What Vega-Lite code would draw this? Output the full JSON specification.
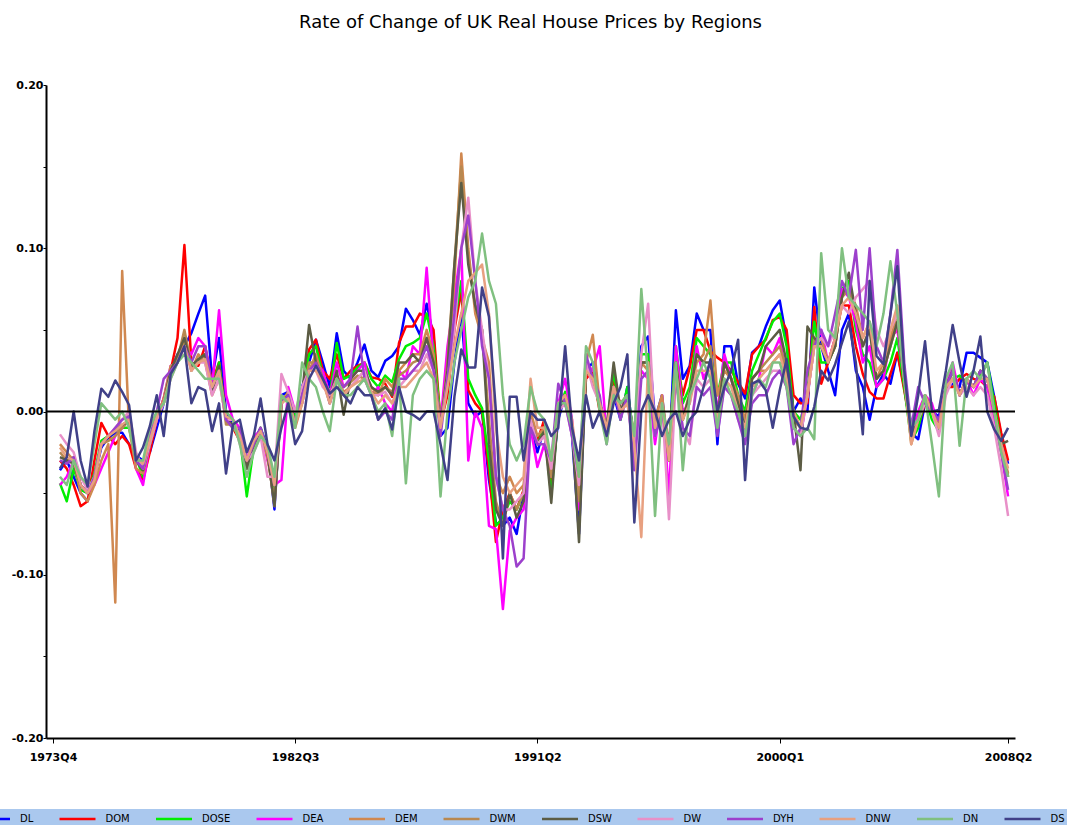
{
"$schema": "https://vega.github.io/schema/vega-lite/v6.json",
"width": 969, "height": 653,
"autosize": {"type": "none"},
"padding": {"left": 46, "top": 85, "right": 52, "bottom": 87},
"background": "white",
"title": {"text": "Rate of Change of UK Real House Prices by Regions", "font": "DejaVu Sans", "fontSize": 18, "fontWeight": "normal", "color": "black", "anchor": "middle", "frame": "group", "offset": 47},
"config": {"view": {"stroke": null}},
"layer": [
{
"data": {"values": [
{"d":"1974-01-01","DL":-0.036,"DOM":-0.030,"DOSE":-0.044,"DEA":-0.045,"DEM":-0.020,"DWM":-0.025,"DSW":-0.028,"DW":-0.014,"DYH":-0.030,"DNW":-0.022,"DN":-0.040,"DS":-0.035},
{"d":"1974-04-01","DL":-0.030,"DOM":-0.035,"DOSE":-0.055,"DEA":-0.040,"DEM":-0.025,"DWM":-0.030,"DSW":-0.030,"DW":-0.020,"DYH":-0.032,"DNW":-0.028,"DN":-0.045,"DS":-0.028},
{"d":"1974-07-01","DL":-0.040,"DOM":-0.045,"DOSE":-0.035,"DEA":-0.030,"DEM":-0.030,"DWM":-0.028,"DSW":-0.032,"DW":-0.025,"DYH":-0.028,"DNW":-0.030,"DN":-0.030,"DS":0.000},
{"d":"1974-10-01","DL":-0.050,"DOM":-0.058,"DOSE":-0.048,"DEA":-0.045,"DEM":-0.050,"DWM":-0.045,"DSW":-0.045,"DW":-0.040,"DYH":-0.045,"DNW":-0.045,"DN":-0.040,"DS":-0.030},
{"d":"1975-01-01","DL":-0.055,"DOM":-0.055,"DOSE":-0.050,"DEA":-0.050,"DEM":-0.055,"DWM":-0.050,"DSW":-0.050,"DW":-0.048,"DYH":-0.050,"DNW":-0.050,"DN":-0.045,"DS":-0.046},
{"d":"1975-04-01","DL":-0.040,"DOM":-0.030,"DOSE":-0.038,"DEA":-0.045,"DEM":-0.045,"DWM":-0.040,"DSW":-0.040,"DW":-0.040,"DYH":-0.040,"DNW":-0.042,"DN":-0.020,"DS":-0.012},
{"d":"1975-07-01","DL":-0.022,"DOM":-0.007,"DOSE":-0.018,"DEA":-0.035,"DEM":-0.030,"DWM":-0.020,"DSW":-0.020,"DW":-0.020,"DYH":-0.020,"DNW":-0.020,"DN":0.005,"DS":0.014},
{"d":"1975-10-01","DL":-0.016,"DOM":-0.015,"DOSE":-0.015,"DEA":-0.025,"DEM":-0.020,"DWM":-0.018,"DSW":-0.015,"DW":-0.015,"DYH":-0.015,"DNW":-0.015,"DN":0.000,"DS":0.009},
{"d":"1976-01-01","DL":-0.013,"DOM":-0.020,"DOSE":-0.012,"DEA":-0.015,"DEM":-0.117,"DWM":-0.015,"DSW":-0.012,"DW":-0.010,"DYH":-0.010,"DNW":-0.012,"DN":-0.005,"DS":0.019},
{"d":"1976-04-01","DL":-0.013,"DOM":-0.015,"DOSE":-0.010,"DEA":-0.010,"DEM":0.086,"DWM":-0.010,"DSW":-0.008,"DW":-0.005,"DYH":-0.005,"DNW":-0.008,"DN":0.000,"DS":0.012},
{"d":"1976-07-01","DL":-0.020,"DOM":-0.020,"DOSE":-0.010,"DEA":-0.005,"DEM":-0.010,"DWM":-0.005,"DSW":-0.006,"DW":0.000,"DYH":-0.003,"DNW":-0.005,"DN":-0.010,"DS":0.004},
{"d":"1976-10-01","DL":-0.027,"DOM":-0.035,"DOSE":-0.028,"DEA":-0.035,"DEM":-0.035,"DWM":-0.028,"DSW":-0.030,"DW":-0.025,"DYH":-0.030,"DNW":-0.028,"DN":-0.030,"DS":-0.030},
{"d":"1977-01-01","DL":-0.030,"DOM":-0.042,"DOSE":-0.040,"DEA":-0.045,"DEM":-0.038,"DWM":-0.035,"DSW":-0.036,"DW":-0.035,"DYH":-0.035,"DNW":-0.032,"DN":-0.030,"DS":-0.022},
{"d":"1977-04-01","DL":-0.025,"DOM":-0.025,"DOSE":-0.018,"DEA":-0.020,"DEM":-0.020,"DWM":-0.020,"DSW":-0.020,"DW":-0.020,"DYH":-0.015,"DNW":-0.018,"DN":-0.010,"DS":-0.009},
{"d":"1977-07-01","DL":-0.010,"DOM":-0.005,"DOSE":0.000,"DEA":-0.005,"DEM":-0.005,"DWM":-0.002,"DSW":-0.004,"DW":-0.005,"DYH":0.000,"DNW":-0.003,"DN":0.000,"DS":0.010},
{"d":"1977-10-01","DL":0.005,"DOM":0.008,"DOSE":0.005,"DEA":0.008,"DEM":0.008,"DWM":0.005,"DSW":0.006,"DW":0.005,"DYH":0.020,"DNW":0.006,"DN":0.005,"DS":-0.015},
{"d":"1978-01-01","DL":0.025,"DOM":0.025,"DOSE":0.022,"DEA":0.028,"DEM":0.028,"DWM":0.022,"DSW":0.025,"DW":0.020,"DYH":0.025,"DNW":0.022,"DN":0.020,"DS":0.023},
{"d":"1978-04-01","DL":0.035,"DOM":0.045,"DOSE":0.030,"DEA":0.030,"DEM":0.030,"DWM":0.032,"DSW":0.035,"DW":0.030,"DYH":0.030,"DNW":0.030,"DN":0.030,"DS":0.030},
{"d":"1978-07-01","DL":0.040,"DOM":0.102,"DOSE":0.045,"DEA":0.040,"DEM":0.045,"DWM":0.050,"DSW":0.045,"DW":0.040,"DYH":0.040,"DNW":0.040,"DN":0.035,"DS":0.040},
{"d":"1978-10-01","DL":0.048,"DOM":0.030,"DOSE":0.025,"DEA":0.035,"DEM":0.025,"DWM":0.028,"DSW":0.028,"DW":0.025,"DYH":0.030,"DNW":0.025,"DN":0.030,"DS":0.005},
{"d":"1979-01-01","DL":0.060,"DOM":0.028,"DOSE":0.032,"DEA":0.045,"DEM":0.035,"DWM":0.030,"DSW":0.032,"DW":0.030,"DYH":0.040,"DNW":0.030,"DN":0.025,"DS":0.015},
{"d":"1979-04-01","DL":0.071,"DOM":0.040,"DOSE":0.035,"DEA":0.040,"DEM":0.030,"DWM":0.035,"DSW":0.035,"DW":0.030,"DYH":0.040,"DNW":0.032,"DN":0.020,"DS":0.013},
{"d":"1979-07-01","DL":0.020,"DOM":0.018,"DOSE":0.012,"DEA":0.015,"DEM":0.010,"DWM":0.015,"DSW":0.012,"DW":0.010,"DYH":0.015,"DNW":0.015,"DN":0.020,"DS":-0.012},
{"d":"1979-10-01","DL":0.045,"DOM":0.030,"DOSE":0.030,"DEA":0.062,"DEM":0.020,"DWM":0.025,"DSW":0.028,"DW":0.020,"DYH":0.025,"DNW":0.025,"DN":0.020,"DS":0.005},
{"d":"1980-01-01","DL":0.000,"DOM":-0.003,"DOSE":-0.005,"DEA":0.010,"DEM":-0.005,"DWM":-0.008,"DSW":-0.005,"DW":-0.005,"DYH":-0.005,"DNW":-0.003,"DN":0.000,"DS":-0.038},
{"d":"1980-04-01","DL":-0.008,"DOM":-0.010,"DOSE":-0.010,"DEA":-0.005,"DEM":-0.010,"DWM":-0.008,"DSW":-0.008,"DW":-0.005,"DYH":-0.010,"DNW":-0.005,"DN":-0.005,"DS":-0.008},
{"d":"1980-07-01","DL":-0.012,"DOM":-0.018,"DOSE":-0.015,"DEA":-0.010,"DEM":-0.015,"DWM":-0.015,"DSW":-0.015,"DW":-0.020,"DYH":-0.010,"DNW":-0.015,"DN":-0.020,"DS":-0.005},
{"d":"1980-10-01","DL":-0.035,"DOM":-0.035,"DOSE":-0.052,"DEA":-0.030,"DEM":-0.030,"DWM":-0.035,"DSW":-0.035,"DW":-0.030,"DYH":-0.030,"DNW":-0.030,"DN":-0.040,"DS":-0.025},
{"d":"1981-01-01","DL":-0.018,"DOM":-0.020,"DOSE":-0.022,"DEA":-0.015,"DEM":-0.020,"DWM":-0.020,"DSW":-0.020,"DW":-0.025,"DYH":-0.020,"DNW":-0.018,"DN":-0.025,"DS":-0.015},
{"d":"1981-04-01","DL":-0.010,"DOM":-0.015,"DOSE":-0.010,"DEA":-0.012,"DEM":-0.012,"DWM":-0.010,"DSW":-0.012,"DW":-0.015,"DYH":-0.010,"DNW":-0.012,"DN":-0.015,"DS":0.008},
{"d":"1981-07-01","DL":-0.022,"DOM":-0.025,"DOSE":-0.025,"DEA":-0.030,"DEM":-0.028,"DWM":-0.025,"DSW":-0.025,"DW":-0.040,"DYH":-0.025,"DNW":-0.025,"DN":-0.020,"DS":-0.020},
{"d":"1981-10-01","DL":-0.060,"DOM":-0.045,"DOSE":-0.048,"DEA":-0.045,"DEM":-0.055,"DWM":-0.058,"DSW":-0.058,"DW":-0.040,"DYH":-0.045,"DNW":-0.045,"DN":-0.040,"DS":-0.030},
{"d":"1982-01-01","DL":0.010,"DOM":0.008,"DOSE":0.005,"DEA":-0.042,"DEM":0.005,"DWM":0.005,"DSW":0.005,"DW":0.023,"DYH":0.005,"DNW":0.005,"DN":0.010,"DS":-0.010},
{"d":"1982-04-01","DL":0.012,"DOM":0.010,"DOSE":0.012,"DEA":0.015,"DEM":0.012,"DWM":0.010,"DSW":0.010,"DW":0.012,"DYH":0.010,"DNW":0.008,"DN":0.005,"DS":0.005},
{"d":"1982-07-01","DL":-0.005,"DOM":-0.008,"DOSE":-0.005,"DEA":0.000,"DEM":-0.010,"DWM":-0.008,"DSW":-0.008,"DW":0.000,"DYH":-0.008,"DNW":-0.008,"DN":-0.010,"DS":-0.020},
{"d":"1982-10-01","DL":0.015,"DOM":0.010,"DOSE":0.012,"DEA":0.005,"DEM":0.005,"DWM":0.008,"DSW":0.010,"DW":0.015,"DYH":0.010,"DNW":0.005,"DN":0.030,"DS":-0.012},
{"d":"1983-01-01","DL":0.030,"DOM":0.038,"DOSE":0.035,"DEA":0.025,"DEM":0.025,"DWM":0.030,"DSW":0.053,"DW":0.025,"DYH":0.025,"DNW":0.025,"DN":0.020,"DS":0.020},
{"d":"1983-04-01","DL":0.044,"DOM":0.044,"DOSE":0.040,"DEA":0.030,"DEM":0.035,"DWM":0.030,"DSW":0.030,"DW":0.025,"DYH":0.030,"DNW":0.025,"DN":0.015,"DS":0.028},
{"d":"1983-07-01","DL":0.030,"DOM":0.025,"DOSE":0.022,"DEA":0.025,"DEM":0.020,"DWM":0.020,"DSW":0.020,"DW":0.015,"DYH":0.020,"DNW":0.018,"DN":0.000,"DS":0.020},
{"d":"1983-10-01","DL":0.015,"DOM":0.020,"DOSE":0.010,"DEA":0.010,"DEM":0.010,"DWM":0.005,"DSW":0.008,"DW":0.010,"DYH":0.005,"DNW":0.005,"DN":-0.012,"DS":0.011},
{"d":"1984-01-01","DL":0.048,"DOM":0.035,"DOSE":0.042,"DEA":0.030,"DEM":0.020,"DWM":0.022,"DSW":0.025,"DW":0.020,"DYH":0.020,"DNW":0.020,"DN":0.020,"DS":0.015},
{"d":"1984-04-01","DL":0.025,"DOM":0.020,"DOSE":0.020,"DEA":0.015,"DEM":0.012,"DWM":0.015,"DSW":-0.002,"DW":0.010,"DYH":0.015,"DNW":0.010,"DN":0.010,"DS":0.010},
{"d":"1984-07-01","DL":0.020,"DOM":0.025,"DOSE":0.022,"DEA":0.020,"DEM":0.015,"DWM":0.018,"DSW":0.020,"DW":0.015,"DYH":0.020,"DNW":0.015,"DN":0.010,"DS":0.005},
{"d":"1984-10-01","DL":0.030,"DOM":0.028,"DOSE":0.027,"DEA":0.025,"DEM":0.020,"DWM":0.022,"DSW":0.025,"DW":0.020,"DYH":0.052,"DNW":0.018,"DN":0.015,"DS":0.015},
{"d":"1985-01-01","DL":0.041,"DOM":0.030,"DOSE":0.030,"DEA":0.030,"DEM":0.025,"DWM":0.020,"DSW":0.025,"DW":0.025,"DYH":0.020,"DNW":0.020,"DN":0.020,"DS":0.010},
{"d":"1985-04-01","DL":0.025,"DOM":0.021,"DOSE":0.020,"DEA":0.010,"DEM":0.015,"DWM":0.012,"DSW":0.015,"DW":0.010,"DYH":0.010,"DNW":0.012,"DN":0.010,"DS":0.010},
{"d":"1985-07-01","DL":0.021,"DOM":0.020,"DOSE":0.015,"DEA":0.015,"DEM":0.010,"DWM":0.010,"DSW":0.012,"DW":0.010,"DYH":-0.005,"DNW":0.005,"DN":0.000,"DS":-0.005},
{"d":"1985-10-01","DL":0.031,"DOM":0.017,"DOSE":0.022,"DEA":0.005,"DEM":0.020,"DWM":0.015,"DSW":0.015,"DW":0.012,"DYH":0.000,"DNW":0.010,"DN":0.005,"DS":0.002},
{"d":"1986-01-01","DL":0.034,"DOM":0.009,"DOSE":0.018,"DEA":0.000,"DEM":0.015,"DWM":0.012,"DSW":0.010,"DW":0.005,"DYH":-0.005,"DNW":0.005,"DN":-0.015,"DS":-0.011},
{"d":"1986-04-01","DL":0.040,"DOM":0.042,"DOSE":0.032,"DEA":0.025,"DEM":0.025,"DWM":0.022,"DSW":0.030,"DW":0.015,"DYH":0.020,"DNW":0.015,"DN":0.020,"DS":0.015},
{"d":"1986-07-01","DL":0.063,"DOM":0.052,"DOSE":0.040,"DEA":0.020,"DEM":0.030,"DWM":0.025,"DSW":0.030,"DW":0.020,"DYH":0.020,"DNW":0.015,"DN":-0.044,"DS":0.000},
{"d":"1986-10-01","DL":0.056,"DOM":0.052,"DOSE":0.042,"DEA":0.040,"DEM":0.035,"DWM":0.030,"DSW":0.035,"DW":0.025,"DYH":0.025,"DNW":0.020,"DN":0.010,"DS":-0.002},
{"d":"1987-01-01","DL":0.047,"DOM":0.060,"DOSE":0.045,"DEA":0.035,"DEM":0.035,"DWM":0.032,"DSW":0.030,"DW":0.025,"DYH":0.030,"DNW":0.025,"DN":0.020,"DS":-0.005},
{"d":"1987-04-01","DL":0.066,"DOM":0.058,"DOSE":0.060,"DEA":0.088,"DEM":0.050,"DWM":0.045,"DSW":0.045,"DW":0.035,"DYH":0.040,"DNW":0.030,"DN":0.025,"DS":0.000},
{"d":"1987-07-01","DL":0.046,"DOM":0.050,"DOSE":0.040,"DEA":0.030,"DEM":0.035,"DWM":0.030,"DSW":0.030,"DW":0.025,"DYH":0.025,"DNW":0.020,"DN":0.020,"DS":0.000},
{"d":"1987-10-01","DL":-0.015,"DOM":-0.007,"DOSE":-0.005,"DEA":-0.007,"DEM":-0.010,"DWM":-0.012,"DSW":-0.010,"DW":-0.010,"DYH":-0.015,"DNW":-0.010,"DN":-0.052,"DS":-0.020},
{"d":"1988-01-01","DL":-0.010,"DOM":0.010,"DOSE":0.015,"DEA":0.040,"DEM":0.025,"DWM":0.030,"DSW":0.025,"DW":0.020,"DYH":0.020,"DNW":0.015,"DN":0.000,"DS":-0.042},
{"d":"1988-04-01","DL":0.030,"DOM":0.050,"DOSE":0.055,"DEA":0.070,"DEM":0.080,"DWM":0.090,"DSW":0.090,"DW":0.050,"DYH":0.060,"DNW":0.040,"DN":0.030,"DS":0.009},
{"d":"1988-07-01","DL":0.060,"DOM":0.074,"DOSE":0.080,"DEA":0.100,"DEM":0.158,"DWM":0.150,"DSW":0.140,"DW":0.100,"DYH":0.100,"DNW":0.060,"DN":0.050,"DS":0.038},
{"d":"1988-10-01","DL":0.005,"DOM":0.013,"DOSE":0.020,"DEA":-0.030,"DEM":0.100,"DWM":0.095,"DSW":0.090,"DW":0.131,"DYH":0.120,"DNW":0.080,"DN":0.070,"DS":0.027},
{"d":"1989-01-01","DL":-0.003,"DOM":0.005,"DOSE":0.010,"DEA":0.000,"DEM":0.060,"DWM":0.065,"DSW":0.065,"DW":0.080,"DYH":0.080,"DNW":0.085,"DN":0.080,"DS":0.027},
{"d":"1989-04-01","DL":0.000,"DOM":0.000,"DOSE":0.002,"DEA":-0.010,"DEM":0.045,"DWM":0.050,"DSW":0.050,"DW":0.050,"DYH":0.040,"DNW":0.090,"DN":0.109,"DS":0.076},
{"d":"1989-07-01","DL":-0.042,"DOM":-0.036,"DOSE":-0.030,"DEA":-0.070,"DEM":0.030,"DWM":-0.005,"DSW":-0.020,"DW":0.020,"DYH":0.020,"DNW":0.060,"DN":0.080,"DS":0.058},
{"d":"1989-10-01","DL":-0.068,"DOM":-0.080,"DOSE":-0.070,"DEA":-0.072,"DEM":-0.040,"DWM":-0.055,"DSW":-0.060,"DW":-0.040,"DYH":-0.040,"DNW":-0.010,"DN":0.066,"DS":0.000},
{"d":"1990-01-01","DL":-0.070,"DOM":-0.060,"DOSE":-0.065,"DEA":-0.121,"DEM":-0.050,"DWM":-0.070,"DSW":-0.070,"DW":-0.060,"DYH":-0.060,"DNW":-0.040,"DN":0.010,"DS":-0.090},
{"d":"1990-04-01","DL":-0.065,"DOM":-0.050,"DOSE":-0.055,"DEA":-0.073,"DEM":-0.040,"DWM":-0.050,"DSW":-0.050,"DW":-0.060,"DYH":-0.070,"DNW":-0.050,"DN":-0.020,"DS":0.009},
{"d":"1990-07-01","DL":-0.075,"DOM":-0.060,"DOSE":-0.060,"DEA":-0.065,"DEM":-0.050,"DWM":-0.060,"DSW":-0.065,"DW":-0.055,"DYH":-0.095,"DNW":-0.045,"DN":-0.030,"DS":0.009},
{"d":"1990-10-01","DL":-0.050,"DOM":-0.048,"DOSE":-0.050,"DEA":-0.060,"DEM":-0.045,"DWM":-0.050,"DSW":-0.055,"DW":-0.050,"DYH":-0.090,"DNW":-0.040,"DN":-0.020,"DS":-0.030},
{"d":"1991-01-01","DL":-0.010,"DOM":-0.005,"DOSE":-0.008,"DEA":-0.010,"DEM":0.000,"DWM":-0.005,"DSW":-0.005,"DW":-0.005,"DYH":-0.010,"DNW":0.020,"DN":0.015,"DS":0.000},
{"d":"1991-04-01","DL":-0.025,"DOM":-0.018,"DOSE":-0.020,"DEA":-0.034,"DEM":-0.015,"DWM":-0.020,"DSW":-0.020,"DW":-0.020,"DYH":-0.020,"DNW":-0.010,"DN":0.000,"DS":-0.005},
{"d":"1991-07-01","DL":-0.010,"DOM":-0.005,"DOSE":-0.010,"DEA":-0.020,"DEM":-0.010,"DWM":-0.012,"DSW":-0.012,"DW":-0.015,"DYH":-0.020,"DNW":-0.010,"DN":-0.005,"DS":-0.005},
{"d":"1991-10-01","DL":-0.045,"DOM":-0.048,"DOSE":-0.052,"DEA":-0.040,"DEM":-0.035,"DWM":-0.040,"DSW":-0.056,"DW":-0.035,"DYH":-0.030,"DNW":-0.030,"DN":-0.030,"DS":-0.015},
{"d":"1992-01-01","DL":-0.005,"DOM":0.000,"DOSE":0.000,"DEA":0.005,"DEM":0.000,"DWM":0.000,"DSW":0.000,"DW":0.000,"DYH":0.017,"DNW":0.005,"DN":0.005,"DS":-0.010},
{"d":"1992-04-01","DL":0.010,"DOM":0.010,"DOSE":0.012,"DEA":0.020,"DEM":0.010,"DWM":0.010,"DSW":0.010,"DW":0.005,"DYH":0.005,"DNW":0.010,"DN":0.005,"DS":0.040},
{"d":"1992-07-01","DL":-0.015,"DOM":-0.010,"DOSE":-0.010,"DEA":-0.005,"DEM":-0.010,"DWM":-0.010,"DSW":-0.010,"DW":-0.015,"DYH":-0.015,"DNW":-0.005,"DN":-0.010,"DS":-0.010},
{"d":"1992-10-01","DL":-0.075,"DOM":-0.055,"DOSE":-0.060,"DEA":-0.060,"DEM":-0.045,"DWM":-0.055,"DSW":-0.080,"DW":-0.045,"DYH":-0.040,"DNW":-0.040,"DN":-0.040,"DS":-0.030},
{"d":"1993-01-01","DL":0.025,"DOM":0.020,"DOSE":0.025,"DEA":0.030,"DEM":0.030,"DWM":0.025,"DSW":0.025,"DW":0.030,"DYH":0.035,"DNW":0.025,"DN":0.040,"DS":0.010},
{"d":"1993-04-01","DL":0.030,"DOM":0.025,"DOSE":0.020,"DEA":0.025,"DEM":0.047,"DWM":0.020,"DSW":0.020,"DW":0.015,"DYH":0.020,"DNW":0.020,"DN":0.030,"DS":-0.010},
{"d":"1993-07-01","DL":0.005,"DOM":0.000,"DOSE":0.003,"DEA":0.040,"DEM":0.005,"DWM":0.005,"DSW":0.005,"DW":0.005,"DYH":0.010,"DNW":0.005,"DN":0.000,"DS":0.000},
{"d":"1993-10-01","DL":-0.010,"DOM":-0.015,"DOSE":-0.010,"DEA":-0.015,"DEM":-0.010,"DWM":-0.010,"DSW":-0.010,"DW":-0.015,"DYH":-0.020,"DNW":-0.010,"DN":-0.020,"DS":-0.015},
{"d":"1994-01-01","DL":0.010,"DOM":0.020,"DOSE":0.025,"DEA":0.015,"DEM":0.015,"DWM":0.015,"DSW":0.030,"DW":0.010,"DYH":0.015,"DNW":0.015,"DN":0.010,"DS":0.005},
{"d":"1994-04-01","DL":-0.005,"DOM":0.000,"DOSE":-0.005,"DEA":0.005,"DEM":0.005,"DWM":0.000,"DSW":0.000,"DW":0.000,"DYH":-0.005,"DNW":0.000,"DN":0.005,"DS":0.015},
{"d":"1994-07-01","DL":0.015,"DOM":0.010,"DOSE":0.015,"DEA":0.005,"DEM":0.010,"DWM":0.010,"DSW":0.010,"DW":0.005,"DYH":0.010,"DNW":0.005,"DN":0.010,"DS":0.035},
{"d":"1994-10-01","DL":-0.020,"DOM":-0.015,"DOSE":-0.020,"DEA":-0.015,"DEM":-0.025,"DWM":-0.020,"DSW":-0.020,"DW":-0.025,"DYH":-0.036,"DNW":-0.020,"DN":-0.015,"DS":-0.068},
{"d":"1995-01-01","DL":0.040,"DOM":0.030,"DOSE":0.035,"DEA":0.025,"DEM":0.030,"DWM":0.030,"DSW":0.030,"DW":0.035,"DYH":0.020,"DNW":-0.077,"DN":0.075,"DS":0.000},
{"d":"1995-04-01","DL":0.046,"DOM":0.030,"DOSE":0.035,"DEA":0.020,"DEM":0.025,"DWM":0.030,"DSW":0.030,"DW":0.066,"DYH":0.025,"DNW":0.030,"DN":0.020,"DS":0.010},
{"d":"1995-07-01","DL":-0.005,"DOM":-0.010,"DOSE":-0.010,"DEA":-0.020,"DEM":-0.005,"DWM":-0.010,"DSW":-0.010,"DW":-0.015,"DYH":-0.015,"DNW":-0.010,"DN":-0.064,"DS":0.000},
{"d":"1995-10-01","DL":0.010,"DOM":0.005,"DOSE":0.005,"DEA":0.010,"DEM":0.010,"DWM":0.005,"DSW":0.005,"DW":0.005,"DYH":0.000,"DNW":0.005,"DN":0.005,"DS":-0.015},
{"d":"1996-01-01","DL":-0.030,"DOM":-0.020,"DOSE":-0.025,"DEA":-0.052,"DEM":-0.025,"DWM":-0.030,"DSW":-0.030,"DW":-0.066,"DYH":-0.025,"DNW":-0.030,"DN":-0.020,"DS":-0.005},
{"d":"1996-04-01","DL":0.062,"DOM":0.035,"DOSE":0.040,"DEA":0.040,"DEM":0.030,"DWM":0.030,"DSW":0.030,"DW":0.020,"DYH":0.020,"DNW":0.025,"DN":0.030,"DS":0.000},
{"d":"1996-07-01","DL":0.020,"DOM":0.010,"DOSE":0.005,"DEA":0.000,"DEM":-0.005,"DWM":-0.005,"DSW":-0.005,"DW":-0.010,"DYH":-0.010,"DNW":-0.005,"DN":-0.036,"DS":-0.015},
{"d":"1996-10-01","DL":0.028,"DOM":0.027,"DOSE":0.015,"DEA":0.005,"DEM":0.010,"DWM":0.012,"DSW":0.010,"DW":-0.020,"DYH":-0.015,"DNW":0.005,"DN":0.010,"DS":-0.005},
{"d":"1997-01-01","DL":0.060,"DOM":0.050,"DOSE":0.045,"DEA":0.040,"DEM":0.030,"DWM":0.035,"DSW":0.035,"DW":0.020,"DYH":0.015,"DNW":0.025,"DN":0.020,"DS":0.000},
{"d":"1997-04-01","DL":0.050,"DOM":0.050,"DOSE":0.040,"DEA":0.020,"DEM":0.035,"DWM":0.030,"DSW":0.030,"DW":0.015,"DYH":0.010,"DNW":0.025,"DN":0.030,"DS":0.015},
{"d":"1997-07-01","DL":0.050,"DOM":0.037,"DOSE":0.035,"DEA":0.030,"DEM":0.068,"DWM":0.040,"DSW":0.030,"DW":0.020,"DYH":0.015,"DNW":0.025,"DN":0.020,"DS":0.032},
{"d":"1997-10-01","DL":-0.020,"DOM":0.033,"DOSE":0.010,"DEA":0.000,"DEM":0.010,"DWM":-0.005,"DSW":-0.005,"DW":-0.010,"DYH":-0.015,"DNW":-0.005,"DN":-0.010,"DS":0.000},
{"d":"1998-01-01","DL":0.040,"DOM":0.030,"DOSE":0.030,"DEA":0.035,"DEM":0.025,"DWM":0.030,"DSW":0.030,"DW":0.015,"DYH":0.015,"DNW":0.020,"DN":0.020,"DS":0.015},
{"d":"1998-04-01","DL":0.040,"DOM":0.025,"DOSE":0.030,"DEA":0.020,"DEM":0.020,"DWM":0.020,"DSW":0.020,"DW":0.010,"DYH":0.010,"DNW":0.015,"DN":0.010,"DS":0.025},
{"d":"1998-07-01","DL":0.017,"DOM":0.018,"DOSE":0.010,"DEA":0.000,"DEM":0.010,"DWM":0.005,"DSW":0.005,"DW":-0.005,"DYH":-0.005,"DNW":0.000,"DN":0.000,"DS":0.044},
{"d":"1998-10-01","DL":0.008,"DOM":0.011,"DOSE":0.000,"DEA":-0.012,"DEM":-0.005,"DWM":-0.010,"DSW":-0.010,"DW":-0.015,"DYH":-0.020,"DNW":-0.010,"DN":-0.015,"DS":-0.042},
{"d":"1999-01-01","DL":0.036,"DOM":0.035,"DOSE":0.025,"DEA":0.010,"DEM":0.020,"DWM":0.020,"DSW":0.020,"DW":0.010,"DYH":0.005,"DNW":0.015,"DN":0.010,"DS":0.017},
{"d":"1999-04-01","DL":0.040,"DOM":0.040,"DOSE":0.035,"DEA":0.020,"DEM":0.025,"DWM":0.025,"DSW":0.025,"DW":0.015,"DYH":0.010,"DNW":0.020,"DN":0.020,"DS":0.019},
{"d":"1999-07-01","DL":0.052,"DOM":0.044,"DOSE":0.045,"DEA":0.040,"DEM":0.025,"DWM":0.030,"DSW":0.040,"DW":0.020,"DYH":0.010,"DNW":0.025,"DN":0.015,"DS":0.013},
{"d":"1999-10-01","DL":0.062,"DOM":0.056,"DOSE":0.055,"DEA":0.035,"DEM":0.030,"DWM":0.035,"DSW":0.045,"DW":0.025,"DYH":0.020,"DNW":0.030,"DN":0.030,"DS":-0.010},
{"d":"2000-01-01","DL":0.068,"DOM":0.058,"DOSE":0.060,"DEA":0.045,"DEM":0.035,"DWM":0.040,"DSW":0.050,"DW":0.025,"DYH":0.025,"DNW":0.035,"DN":0.030,"DS":0.013},
{"d":"2000-04-01","DL":0.044,"DOM":0.050,"DOSE":0.040,"DEA":0.020,"DEM":0.025,"DWM":0.025,"DSW":0.030,"DW":0.015,"DYH":0.015,"DNW":0.020,"DN":0.015,"DS":0.032},
{"d":"2000-07-01","DL":0.000,"DOM":0.010,"DOSE":0.000,"DEA":-0.010,"DEM":0.000,"DWM":-0.005,"DSW":0.000,"DW":-0.010,"DYH":-0.020,"DNW":0.000,"DN":-0.010,"DS":-0.003},
{"d":"2000-10-01","DL":0.008,"DOM":0.005,"DOSE":-0.005,"DEA":-0.015,"DEM":-0.010,"DWM":-0.010,"DSW":-0.036,"DW":-0.015,"DYH":-0.010,"DNW":-0.010,"DN":-0.015,"DS":-0.010},
{"d":"2001-01-01","DL":0.000,"DOM":0.005,"DOSE":0.010,"DEA":0.010,"DEM":0.010,"DWM":0.010,"DSW":0.052,"DW":0.010,"DYH":0.025,"DNW":0.010,"DN":-0.010,"DS":-0.011},
{"d":"2001-04-01","DL":0.076,"DOM":0.064,"DOSE":0.055,"DEA":0.040,"DEM":0.040,"DWM":0.045,"DSW":0.045,"DW":0.040,"DYH":0.040,"DNW":0.040,"DN":-0.017,"DS":0.003},
{"d":"2001-07-01","DL":0.040,"DOM":0.017,"DOSE":0.030,"DEA":0.050,"DEM":0.045,"DWM":0.040,"DSW":0.040,"DW":0.045,"DYH":0.050,"DNW":0.040,"DN":0.097,"DS":0.025},
{"d":"2001-10-01","DL":0.025,"DOM":0.030,"DOSE":0.030,"DEA":0.030,"DEM":0.030,"DWM":0.030,"DSW":0.030,"DW":0.040,"DYH":0.040,"DNW":0.030,"DN":0.050,"DS":0.019},
{"d":"2002-01-01","DL":0.010,"DOM":0.045,"DOSE":0.040,"DEA":0.045,"DEM":0.040,"DWM":0.040,"DSW":0.040,"DW":0.050,"DYH":0.060,"DNW":0.045,"DN":0.045,"DS":0.029},
{"d":"2002-04-01","DL":0.050,"DOM":0.065,"DOSE":0.075,"DEA":0.075,"DEM":0.070,"DWM":0.070,"DSW":0.070,"DW":0.065,"DYH":0.080,"DNW":0.065,"DN":0.100,"DS":0.042},
{"d":"2002-07-01","DL":0.060,"DOM":0.065,"DOSE":0.080,"DEA":0.070,"DEM":0.075,"DWM":0.075,"DSW":0.085,"DW":0.060,"DYH":0.070,"DNW":0.070,"DN":0.070,"DS":0.055},
{"d":"2002-10-01","DL":0.025,"DOM":0.040,"DOSE":0.050,"DEA":0.055,"DEM":0.065,"DWM":0.060,"DSW":0.060,"DW":0.070,"DYH":0.099,"DNW":0.060,"DN":0.065,"DS":0.030},
{"d":"2003-01-01","DL":0.015,"DOM":0.023,"DOSE":0.035,"DEA":0.030,"DEM":0.045,"DWM":0.040,"DSW":0.040,"DW":0.075,"DYH":0.050,"DNW":0.045,"DN":0.060,"DS":-0.014},
{"d":"2003-04-01","DL":-0.005,"DOM":0.012,"DOSE":0.030,"DEA":0.040,"DEM":0.055,"DWM":0.050,"DSW":0.050,"DW":0.080,"DYH":0.100,"DNW":0.055,"DN":0.055,"DS":0.080},
{"d":"2003-07-01","DL":0.015,"DOM":0.008,"DOSE":0.015,"DEA":0.015,"DEM":0.020,"DWM":0.020,"DSW":0.020,"DW":0.050,"DYH":0.040,"DNW":0.025,"DN":0.040,"DS":0.034},
{"d":"2003-10-01","DL":0.023,"DOM":0.008,"DOSE":0.020,"DEA":0.020,"DEM":0.030,"DWM":0.025,"DSW":0.025,"DW":0.040,"DYH":0.030,"DNW":0.030,"DN":0.060,"DS":0.029},
{"d":"2004-01-01","DL":0.017,"DOM":0.023,"DOSE":0.030,"DEA":0.045,"DEM":0.045,"DWM":0.040,"DSW":0.040,"DW":0.050,"DYH":0.060,"DNW":0.050,"DN":0.092,"DS":0.060},
{"d":"2004-04-01","DL":0.036,"DOM":0.036,"DOSE":0.045,"DEA":0.050,"DEM":0.060,"DWM":0.055,"DSW":0.055,"DW":0.060,"DYH":0.099,"DNW":0.065,"DN":0.060,"DS":0.089},
{"d":"2004-07-01","DL":0.015,"DOM":0.013,"DOSE":0.015,"DEA":0.020,"DEM":0.025,"DWM":0.020,"DSW":0.020,"DW":0.020,"DYH":0.030,"DNW":0.020,"DN":0.020,"DS":0.025},
{"d":"2004-10-01","DL":-0.013,"DOM":-0.011,"DOSE":-0.018,"DEA":-0.015,"DEM":-0.020,"DWM":-0.015,"DSW":-0.015,"DW":-0.010,"DYH":-0.010,"DNW":-0.020,"DN":-0.010,"DS":-0.015},
{"d":"2005-01-01","DL":-0.017,"DOM":-0.009,"DOSE":-0.010,"DEA":0.000,"DEM":-0.005,"DWM":-0.005,"DSW":-0.005,"DW":-0.005,"DYH":0.015,"DNW":-0.005,"DN":-0.005,"DS":0.010},
{"d":"2005-04-01","DL":0.005,"DOM":0.005,"DOSE":0.008,"DEA":0.010,"DEM":0.010,"DWM":0.010,"DSW":0.010,"DW":0.005,"DYH":0.005,"DNW":0.010,"DN":0.010,"DS":0.043},
{"d":"2005-07-01","DL":0.000,"DOM":0.000,"DOSE":-0.005,"DEA":0.005,"DEM":0.000,"DWM":0.000,"DSW":0.000,"DW":0.000,"DYH":0.000,"DNW":0.000,"DN":-0.020,"DS":0.000},
{"d":"2005-10-01","DL":-0.003,"DOM":-0.007,"DOSE":-0.012,"DEA":-0.010,"DEM":-0.010,"DWM":-0.010,"DSW":-0.010,"DW":-0.015,"DYH":-0.005,"DNW":-0.010,"DN":-0.052,"DS":0.001},
{"d":"2006-01-01","DL":0.015,"DOM":0.015,"DOSE":0.015,"DEA":0.015,"DEM":0.012,"DWM":0.015,"DSW":0.015,"DW":0.010,"DYH":0.015,"DNW":0.015,"DN":0.020,"DS":0.025},
{"d":"2006-04-01","DL":0.017,"DOM":0.015,"DOSE":0.020,"DEA":0.030,"DEM":0.025,"DWM":0.025,"DSW":0.025,"DW":0.020,"DYH":0.025,"DNW":0.020,"DN":0.030,"DS":0.053},
{"d":"2006-07-01","DL":0.015,"DOM":0.020,"DOSE":0.022,"DEA":0.010,"DEM":0.010,"DWM":0.010,"DSW":0.010,"DW":0.010,"DYH":0.010,"DNW":0.010,"DN":-0.021,"DS":0.030},
{"d":"2006-10-01","DL":0.036,"DOM":0.023,"DOSE":0.018,"DEA":0.020,"DEM":0.020,"DWM":0.020,"DSW":0.020,"DW":0.015,"DYH":0.020,"DNW":0.020,"DN":0.020,"DS":0.009},
{"d":"2007-01-01","DL":0.036,"DOM":0.020,"DOSE":0.015,"DEA":0.010,"DEM":0.015,"DWM":0.015,"DSW":0.015,"DW":0.010,"DYH":0.015,"DNW":0.015,"DN":0.025,"DS":0.025},
{"d":"2007-04-01","DL":0.033,"DOM":0.019,"DOSE":0.022,"DEA":0.020,"DEM":0.025,"DWM":0.025,"DSW":0.025,"DW":0.015,"DYH":0.025,"DNW":0.020,"DN":0.020,"DS":0.046},
{"d":"2007-07-01","DL":0.030,"DOM":0.015,"DOSE":0.030,"DEA":0.015,"DEM":0.020,"DWM":0.020,"DSW":0.020,"DW":0.010,"DYH":0.020,"DNW":0.020,"DN":0.030,"DS":0.000},
{"d":"2007-10-01","DL":0.009,"DOM":0.009,"DOSE":0.005,"DEA":-0.005,"DEM":0.000,"DWM":0.000,"DSW":0.000,"DW":-0.010,"DYH":0.000,"DNW":0.000,"DN":0.000,"DS":-0.011},
{"d":"2008-01-01","DL":-0.015,"DOM":-0.013,"DOSE":-0.020,"DEA":-0.025,"DEM":-0.020,"DWM":-0.020,"DSW":-0.020,"DW":-0.035,"DYH":-0.025,"DNW":-0.020,"DN":-0.025,"DS":-0.018},
{"d":"2008-04-01","DL":-0.032,"DOM":-0.030,"DOSE":-0.040,"DEA":-0.052,"DEM":-0.038,"DWM":-0.040,"DSW":-0.018,"DW":-0.064,"DYH":-0.048,"DNW":-0.035,"DN":-0.040,"DS":-0.010}
]},
"transform": [{"fold": ["DL","DOM","DOSE","DEA","DEM","DWM","DSW","DW","DYH","DNW","DN","DS"], "as": ["region","value"]}],
"mark": {"type": "line", "strokeJoin": "round"},
"encoding": {
 "x": {"field": "d", "type": "temporal",
   "scale": {"type": "utc", "domain": [{"year":1973,"month":7,"date":1,"utc":true},{"year":2008,"month":7,"date":1,"utc":true}]},
   "axis": {"values": [{"year":1973,"month":10,"date":1,"utc":true},{"year":1982,"month":7,"date":1,"utc":true},{"year":1991,"month":4,"date":1,"utc":true},{"year":2000,"month":1,"date":1,"utc":true},{"year":2008,"month":4,"date":1,"utc":true}],
     "labelExpr": "utcFormat(datum.value, '%YQ%q')", "title": null, "grid": false,
     "domainColor": "black", "domainWidth": 2, "tickColor": "black", "tickSize": 5, "tickWidth": 1,
     "labelFont": "DejaVu Sans", "labelFontWeight": "bold", "labelFontSize": 11, "labelColor": "black", "labelPadding": 8, "labelFlush": false, "labelOverlap": false}},
 "y": {"field": "value", "type": "quantitative",
   "scale": {"domain": [-0.2, 0.2], "nice": false, "zero": false},
   "axis": {"values": [-0.2,-0.15,-0.1,-0.05,0,0.05,0.1,0.15,0.2],
     "labelExpr": "abs(datum.value*10 - round(datum.value*10)) < 0.01 ? replace(format(datum.value, '.2f'), '\u2212', '-') : ''",
     "title": null, "grid": false, "domainColor": "black", "domainWidth": 2, "tickColor": "black", "tickSize": 3, "tickWidth": 1,
     "labelFont": "DejaVu Sans", "labelFontWeight": "bold", "labelFontSize": 11, "labelColor": "black", "labelPadding": 0}},
 "color": {"field": "region", "type": "nominal",
   "scale": {"domain": ["DL","DOM","DOSE","DEA","DEM","DWM","DSW","DW","DYH","DNW","DN","DS"],
             "range": ["#0000ff","#ff0000","#00ee00","#ff00ff","#d08850","#b88850","#5c5c44","#e890c8","#9c40cc","#e8a080","#80c080","#404088"]},
   "legend": {"orient": "none", "legendX": -82, "legendY": 724, "direction": "horizontal", "columns": 12, "title": null,
     "symbolType": "M0,0H8", "symbolSize": 81, "symbolStrokeWidth": 2.5,
     "labelFont": "DejaVu Sans", "labelFontSize": 10, "labelColor": "black", "labelOffset": 40, "labelLimit": 0,
     "columnPadding": 19.5, "padding": 4, "fillColor": "#aac8ee", "strokeColor": null}},
 "strokeWidth": {"field": "region", "type": "nominal",
   "scale": {"domain": ["DL","DOM","DOSE","DEA","DEM","DWM","DSW","DW","DYH","DNW","DN","DS"], "range": [2.5,2.5,1.8,1.8,1.5,1.5,1.5,1.5,1.5,1.5,1.5,1.5]},
   "legend": null}
}
},
{
"data": {"values": [{}]},
"mark": {"type": "rule", "color": "black", "strokeWidth": 2},
"encoding": {"y": {"datum": 0}}
}
]
}
